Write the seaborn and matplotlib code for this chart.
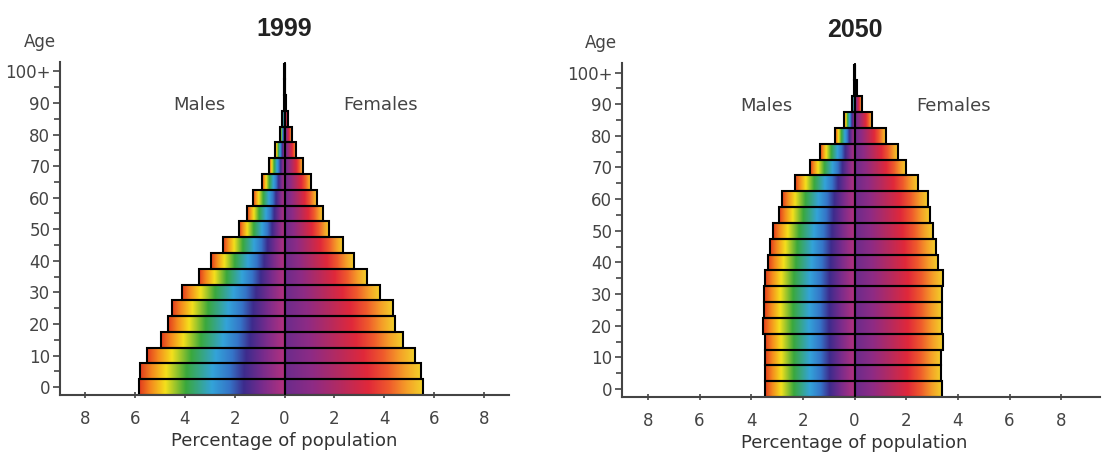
import numpy as np
import pandas as pd
import matplotlib
matplotlib.use('Agg')
import matplotlib.pyplot as plt
import seaborn as sns
from matplotlib.colors import LinearSegmentedColormap
from matplotlib.ticker import MultipleLocator

# age groups (lower bound of each 5-year band), 100 = "100+"
ages = list(range(0, 105, 5))

# percentage of population
male_1999 = [5.85, 5.80, 5.53, 4.96, 4.69, 4.52, 4.12, 3.43, 2.93, 2.47, 1.83,
             1.52, 1.27, 0.92, 0.63, 0.39, 0.19, 0.10, 0.03, 0.01, 0.005]
female_1999 = [5.55, 5.47, 5.24, 4.75, 4.41, 4.35, 3.84, 3.31, 2.77, 2.33, 1.77,
               1.53, 1.31, 1.08, 0.73, 0.47, 0.28, 0.12, 0.04, 0.01, 0.005]
male_2050 = [3.45, 3.45, 3.45, 3.48, 3.55, 3.52, 3.51, 3.45, 3.34, 3.26, 3.14,
             2.94, 2.79, 2.30, 1.73, 1.34, 0.75, 0.40, 0.10, 0.04, 0.01]
female_2050 = [3.39, 3.34, 3.34, 3.41, 3.37, 3.37, 3.37, 3.41, 3.24, 3.17, 3.05,
               2.92, 2.86, 2.44, 2.01, 1.69, 1.21, 0.68, 0.27, 0.10, 0.03]

xticks = [-8, -6, -4, -2, 0, 2, 4, 6, 8]
yticks = list(range(0, 101, 10))
ytick_labels = ['0', '10', '20', '30', '40', '50', '60', '70', '80', '90', '100+']

# rainbow fills: males go outer edge -> centre, females centre -> outer edge
male_cmap = LinearSegmentedColormap.from_list('m', [
    (0.0, '#e23a1e'), (0.08, '#f58a1e'), (0.18, '#f4e01c'), (0.32, '#3aa83c'),
    (0.5, '#33a3d9'), (0.62, '#3575c8'), (0.72, '#3d2b8c'), (0.85, '#7a2c8c'),
    (1.0, '#b4317e')])
female_cmap = LinearSegmentedColormap.from_list('f', [
    (0.0, '#6b2c8c'), (0.2, '#8e2b85'), (0.4, '#b52a60'), (0.6, '#e0283a'),
    (0.75, '#ef5a2c'), (0.88, '#f5a028'), (1.0, '#f2d42a')])

sns.set_theme(style='ticks')
plt.rcParams['font.family'] = ['DejaVu Sans']
grey = '#444444'

fig = plt.figure(figsize=(11.03, 4.55), dpi=100)
ax1 = fig.add_axes([0.0544, 0.1319, 0.4071, 0.7319])
ax2 = fig.add_axes([0.5639, 0.1275, 0.4334, 0.7340])


def pyramid(ax, males, females, year, xlim):
    df = pd.DataFrame({'age': ages * 2,
                       'pct': [-m for m in males] + females,
                       'sex': ['Males'] * len(ages) + ['Females'] * len(ages)})
    sns.barplot(data=df, x='pct', y='age', hue='sex', orient='h',
                native_scale=True, width=1, dodge=False, legend=False,
                palette=['white', 'white'], ax=ax)
    grad = np.linspace(0, 1, 256)[None, :]
    for p in ax.patches:
        bb = p.get_bbox()
        x0, x1 = sorted([bb.x0, bb.x1])
        y0, y1 = sorted([bb.y0, bb.y1])
        cmap = male_cmap if x0 < 0 else female_cmap
        ax.imshow(grad, cmap=cmap, extent=[x0, x1, y0, y1], aspect='auto',
                  interpolation='bilinear', zorder=1)
        p.set_facecolor('none')
        p.set_edgecolor('black')
        p.set_linewidth(1.5)
        p.set_zorder(2)
    ax.axvline(0, color='black', lw=1.3, zorder=3)

    ax.set_xlim(*xlim)
    ax.set_ylim(-2.5, 103)
    ax.set_xticks(xticks)
    ax.set_xticklabels([str(abs(v)) for v in xticks])
    ax.set_yticks(yticks)
    ax.set_yticklabels(ytick_labels)
    ax.yaxis.set_minor_locator(MultipleLocator(5))
    ax.tick_params(axis='x', direction='inout', length=5, width=1.2,
                   color=grey, labelcolor=grey, labelsize=12, pad=8)
    ax.tick_params(axis='y', which='major', direction='out', length=5,
                   width=1.2, color=grey, labelcolor=grey, labelsize=12, pad=2)
    ax.tick_params(axis='y', which='minor', direction='out', length=4,
                   width=1.2, color=grey)
    sns.despine(ax=ax)
    for s in ['left', 'bottom']:
        ax.spines[s].set_color(grey)
        ax.spines[s].set_linewidth(1.5)
    ax.set_ylabel('')
    ax.set_xlabel('Percentage of population', fontsize=13, color='#333333')
    ax.xaxis.set_label_coords((0 - xlim[0]) / (xlim[1] - xlim[0]), -0.112)

    ax.text(0, 1.10, year, transform=ax.get_xaxis_transform(),
            ha='center', va='center', fontsize=18, fontweight='bold',
            family='Liberation Sans', color='#222222')
    ax.text(-0.045, 1.06, 'Age', transform=ax.transAxes, ha='center',
            va='center', fontsize=12, color=grey)
    ax.text(-3.4, 89.5, 'Males', ha='center', va='center', fontsize=13,
            color=grey)
    ax.text(3.85, 89.5, 'Females', ha='center', va='center', fontsize=13,
            color=grey)


pyramid(ax1, male_1999, female_1999, '1999', (-9, 9))
pyramid(ax2, male_2050, female_2050, '2050', (-9, 9.5))

fig.savefig('out.png', dpi=100)
